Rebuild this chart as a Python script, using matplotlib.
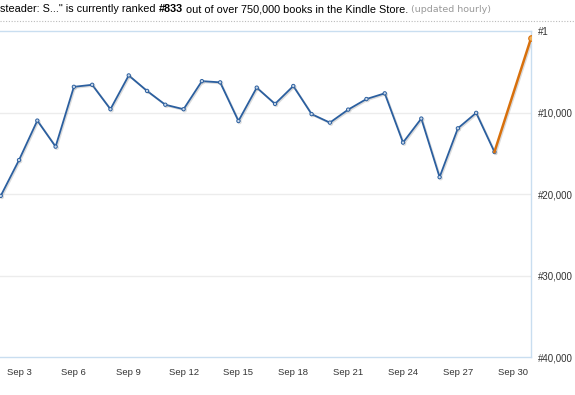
import matplotlib
matplotlib.use("Agg")
import matplotlib.pyplot as plt
import matplotlib.patheffects as pe

# daily Kindle store rank, Sep 2 .. Sep 29, then the latest reading (Oct 1)
days = [2, 3, 4, 5, 6, 7, 8, 9, 10, 11, 12, 13, 14, 15, 16, 17, 18,
        19, 20, 21, 22, 23, 24, 25, 26, 27, 28, 29]
ranks = [20200, 15800, 10950, 14150, 6800, 6550, 9550, 5400, 7300, 9000,
         9550, 6100, 6250, 11000, 6900, 8900, 6700, 10150, 11200, 9600,
         8300, 7600, 13650, 10700, 17900, 11900, 10000, 14800]
latest_days = [29, 31]
latest_ranks = [14800, 833]

tick_days = [3, 6, 9, 12, 15, 18, 21, 24, 27, 30]
tick_labels = ["Sep %d" % d for d in tick_days]
rank_ticks = [1, 10000, 20000, 30000, 40000]
rank_labels = ["#1", "#10,000", "#20,000", "#30,000", "#40,000"]

blue = '#2b5f9f'
orange = '#d8700c'
frame = '#c9def0'

fig = plt.figure(figsize=(5.75, 3.95), dpi=100)
ax = fig.add_axes([0.0, 0.0962, 0.9235, 0.8241])

shadow = [pe.SimpleLineShadow(offset=(0.8, -0.8), shadow_color='#999999', alpha=0.35), pe.Normal()]
ax.plot(days, ranks, color=blue, linewidth=1.3, marker='o', markersize=2.4,
        markerfacecolor='#c9d8ea', markeredgecolor=blue, markeredgewidth=0.7,
        path_effects=shadow, zorder=3)
ax.plot(latest_days, latest_ranks, color=orange, linewidth=1.8, zorder=4,
        path_effects=shadow)
ax.plot(latest_days[-1:], latest_ranks[-1:], 'o', color=orange, markersize=4,
        markerfacecolor='#f2b25c', markeredgecolor=orange, markeredgewidth=0.8, zorder=5)

ax.set_xlim(1.96, 31)
ax.set_ylim(40000, 0)

ax.set_xticks(tick_days)
ax.set_xticklabels(tick_labels, family='Liberation Sans', fontsize=6.8)
ax.set_yticks(rank_ticks)
ax.set_yticklabels(rank_labels, family='Liberation Sans', fontsize=7)
ax.yaxis.tick_right()
ax.tick_params(axis='both', length=0, labelcolor='#333333')
ax.tick_params(axis='x', pad=8)
ax.tick_params(axis='y', pad=5)

for r in rank_ticks[1:-1]:
    ax.axhline(r, color='#ececec', linewidth=1.0, zorder=1)

ax.spines['left'].set_visible(False)
for s in ['top', 'bottom', 'right']:
    ax.spines[s].set_color(frame)
    ax.spines[s].set_linewidth(1.0)

# header sentence, pieced together so "#833" can be bold
renderer = fig.canvas.get_renderer()
x = 0.0
y = 1 - 9 / 395
pieces = [('steader: S..." is currently ranked ', 'normal', 'black', 7.8, 'Liberation Sans'),
          ('#833', 'bold', 'black', 7.8, 'Liberation Sans'),
          (' out of over 750,000 books in the Kindle Store.', 'normal', 'black', 7.8, 'Liberation Sans'),
          (' (updated hourly)', 'normal', '#999999', 6.8, 'DejaVu Sans')]
for txt, weight, col, size, fam in pieces:
    t = fig.text(x, y, txt, fontsize=size, fontweight=weight, color=col,
                 family=fam, va='center', ha='left')
    bb = t.get_window_extent(renderer=renderer)
    x += bb.width / fig.bbox.width

fig.add_artist(plt.Line2D([0, 1], [1 - 20.5 / 395] * 2, transform=fig.transFigure,
                          color='#bbbbbb', linewidth=0.8, linestyle=(0, (1, 1.5))))

fig.savefig('out.png', dpi=100)
